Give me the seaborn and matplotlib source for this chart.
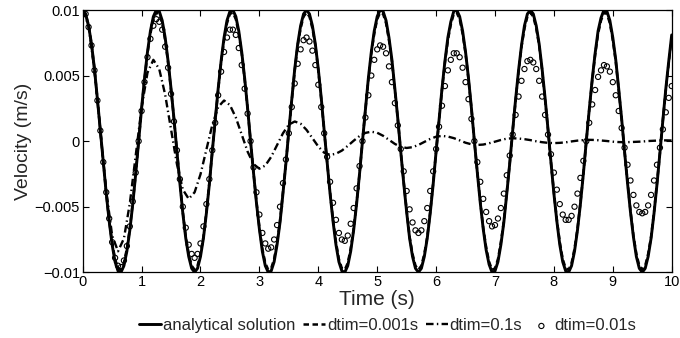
import numpy as np
import seaborn as sns
import matplotlib
matplotlib.use("Agg")
import matplotlib.pyplot as plt

# Time axis (s), sampled every 0.05 s and every 0.1 s for the coarse run
t_fine = np.linspace(0, 10, 201)
t_coarse = np.linspace(0, 10, 101)

# Velocity values, in units of 1e-4 m/s
analytical = [
    100, 97, 88, 74, 55, 32, 8, -16, -40, -61,
    -79, -92, -99, -100, -95, -84, -68, -48, -25, 0,
    25, 48, 68, 84, 95, 100, 99, 92, 79, 61,
    40, 17, -8, -32, -55, -74, -88, -97, -100, -97,
    -88, -74, -55, -33, -8, 16, 40, 61, 79, 92,
    99, 100, 95, 84, 68, 48, 25, 0, -24, -47,
    -67, -84, -95, -100, -99, -92, -79, -62, -40, -17,
    8, 32, 55, 74, 88, 97, 100, 97, 88, 74,
    55, 33, 8, -16, -40, -61, -79, -92, -99, -100,
    -95, -84, -68, -48, -25, 0, 24, 48, 68, 84,
    95, 100, 99, 92, 79, 62, 40, 17, -8, -32,
    -54, -74, -88, -97, -100, -97, -88, -74, -55, -33,
    -8, 16, 40, 61, 79, 91, 99, 100, 95, 84,
    68, 48, 25, 0, -24, -47, -67, -83, -94, -100,
    -99, -92, -79, -62, -40, -17, 8, 32, 54, 73,
    88, 97, 100, 97, 88, 74, 55, 33, 9, -16,
    -40, -61, -79, -92, -99, -100, -95, -84, -68, -48,
    -25, 0, 24, 47, 67, 84, 94, 100, 99, 92,
    79, 62, 40, 17, -8, -32, -54, -73, -88, -97,
    -100, -97, -88, -74, -55, -33, -9, 16, 40, 61,
    81,
]

dtim_0001 = [
    100, 97, 88, 74, 55, 32, 8, -16, -40, -61,
    -77, -90, -97, -98, -93, -82, -67, -47, -25, 0,
    25, 47, 67, 82, 93, 98, 97, 90, 77, 60,
    39, 17, -8, -31, -54, -73, -86, -95, -98, -95,
    -86, -73, -54, -32, -8, 16, 39, 60, 77, 90,
    97, 98, 93, 82, 67, 47, 25, 0, -24, -46,
    -66, -82, -93, -98, -97, -90, -77, -61, -39, -17,
    8, 31, 54, 73, 86, 95, 98, 95, 86, 73,
    54, 32, 8, -16, -39, -60, -77, -90, -97, -98,
    -93, -82, -67, -47, -25, 0, 24, 47, 67, 82,
    93, 98, 97, 90, 77, 61, 39, 17, -8, -31,
    -53, -73, -86, -95, -98, -95, -86, -73, -54, -32,
    -8, 16, 39, 60, 77, 89, 97, 98, 93, 82,
    67, 47, 25, 0, -24, -46, -66, -81, -92, -98,
    -97, -90, -77, -61, -39, -17, 8, 31, 53, 72,
    86, 95, 98, 95, 86, 73, 54, 32, 9, -16,
    -39, -60, -77, -90, -97, -98, -93, -82, -67, -47,
    -25, 0, 24, 46, 66, 82, 92, 98, 97, 90,
    77, 61, 39, 17, -8, -31, -53, -72, -86, -95,
    -98, -95, -86, -73, -54, -32, -9, 16, 39, 60,
    79,
]

dtim_001 = [
    100, 97, 87, 73, 54, 31, 8, -16, -39, -59,
    -77, -89, -95, -96, -91, -80, -65, -46, -24, 0,
    23, 45, 64, 78, 88, 93, 91, 85, 72, 56,
    36, 15, -7, -29, -50, -66, -79, -86, -89, -86,
    -78, -65, -48, -29, -7, 14, 35, 53, 68, 79,
    85, 85, 81, 71, 58, 40, 21, 0, -20, -39,
    -56, -70, -78, -82, -81, -75, -64, -50, -32, -14,
    6, 26, 44, 59, 70, 77, 79, 76, 69, 58,
    43, 26, 6, -12, -31, -47, -60, -70, -75, -76,
    -72, -63, -51, -36, -19, 0, 18, 35, 50, 62,
    70, 73, 72, 67, 57, 45, 29, 12, -6, -23,
    -38, -52, -62, -68, -70, -68, -61, -51, -38, -23,
    -6, 11, 27, 42, 54, 62, 67, 67, 64, 56,
    45, 32, 17, 0, -16, -31, -44, -54, -61, -65,
    -64, -59, -51, -40, -26, -11, 5, 20, 34, 46,
    55, 61, 62, 60, 55, 46, 34, 20, 5, -10,
    -24, -37, -48, -56, -60, -60, -57, -50, -40, -28,
    -15, 0, 14, 28, 39, 49, 54, 58, 57, 53,
    45, 35, 23, 10, -5, -18, -30, -41, -49, -54,
    -55, -54, -49, -41, -30, -18, -5, 9, 22, 33,
    42,
]

dtim_01 = [
    100, 88, 54, 8, -38, -72, -84, -74.2, -47.5, -11,
    25.5, 52.2, 62, 54.9, 35.5, 9, -17.5, -36.9, -44, -39,
    -25.3, -6.5, 12.3, 26, 31, 27.5, 18, 5, -8, -17.5,
    -21, -18.6, -12, -3, 6, 12.6, 15, 13.3, 8.6, 2.3,
    -4.1, -8.8, -10.5, -9.6, -7.2, -3.6, 0.3, 3.9, 6.3, 7.2,
    6.4, 4.1, 1.0, -2.1, -4.4, -5.2, -4.6, -2.9, -0.6, 1.7,
    3.4, 4.0, 3.5, 2.3, 0.6, -1.2, -2.4, -2.9, -2.6, -1.6,
    -0.4, 0.9, 1.9, 2.2, 2.0, 1.5, 0.8, -0.1, -0.8, -1.3,
    -1.5, -1.3, -0.9, -0.2, 0.4, 0.8, 1.0, 0.9, 0.5, 0.1,
    -0.4, -0.7, -0.8, -0.7, -0.5, -0.3, 0.1, 0.3, 0.5, 0.6,
    0.5,
]

xtick_vals = [0, 1, 2, 3, 4, 5, 6, 7, 8, 9, 10]
ytick_vals = [-0.01, -0.005, 0, 0.005, 0.01]
ytick_labels = ["\u22120.01", "\u22120.005", "0", "0.005", "0.01"]

scale = 1e-4  # chart units -> m/s

sns.set_theme(style="white")
plt.rcParams["font.family"] = ["Liberation Sans", "DejaVu Sans"]

fig = plt.figure(figsize=(6.8, 3.38), dpi=100)
ax = fig.add_axes([0.1216, 0.1944, 0.8662, 0.776])

sns.lineplot(x=t_fine, y=np.array(analytical) * scale, ax=ax, color="black",
             linewidth=2.1, label="analytical solution", zorder=3)
sns.lineplot(x=t_fine, y=np.array(dtim_0001) * scale, ax=ax, color="black",
             linewidth=1.8, dashes=False, linestyle=(0, (2.2, 1.4)),
             label="dtim=0.001s", zorder=4)
sns.lineplot(x=t_coarse, y=np.array(dtim_01) * scale, ax=ax, color="black",
             linewidth=1.7, dashes=False, linestyle=(0, (3.2, 1.4, 0.6, 1.4)),
             label="dtim=0.1s", zorder=2)
sns.scatterplot(x=t_fine, y=np.array(dtim_001) * scale, ax=ax, marker="o",
                s=14, facecolor="none", edgecolor="black", linewidth=0.8,
                label="dtim=0.01s", zorder=5)

ax.set_xlim(0, 10)
ax.set_ylim(-0.01, 0.01)
ax.set_xticks(xtick_vals)
ax.set_xticklabels([str(v) for v in xtick_vals], fontsize=10.5)
ax.set_yticks(ytick_vals)
ax.set_yticklabels(ytick_labels, fontsize=10.5)
ax.tick_params(direction="in", length=4, width=0.8, top=True, right=True,
               bottom=True, left=True, pad=2, colors="black")
for sp in ax.spines.values():
    sp.set_color("black")
    sp.set_linewidth(0.9)

ax.set_xlabel("Time (s)", fontsize=15, labelpad=0.5)
ax.set_ylabel("Velocity (m/s)", fontsize=14, labelpad=2)

handles, labels = ax.get_legend_handles_labels()
ax.get_legend().remove()
fig.legend(handles, labels, loc="center", bbox_to_anchor=(0.57, 0.036),
           ncol=4, frameon=False, fontsize=12, handlelength=1.3,
           handletextpad=0.1, columnspacing=0.5, borderpad=0)

fig.savefig("out.png", dpi=100)
